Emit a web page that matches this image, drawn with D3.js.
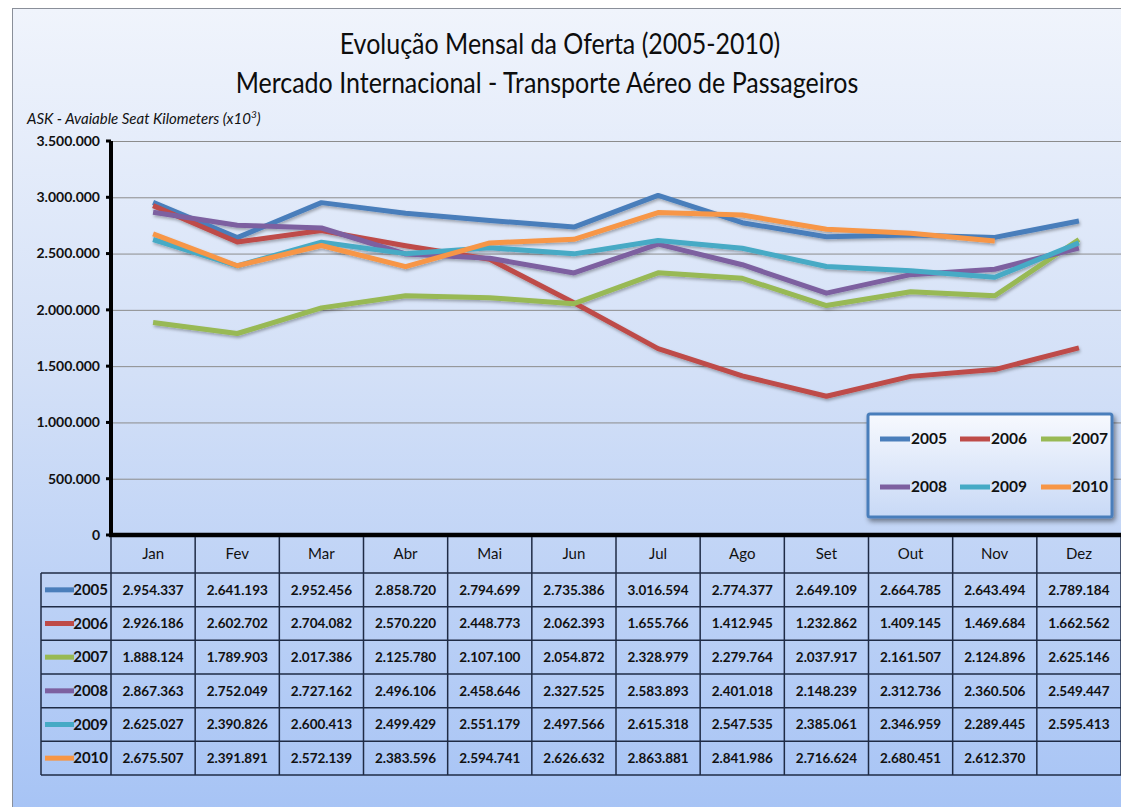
<!DOCTYPE html>
<html>
<head>
<meta charset="utf-8">
<script src="https://cdn.jsdelivr.net/npm/d3@7"></script>
<style>
  body { margin:0; background:#fff; }
  svg { display:block; font-family: Lato, "Open Sans", sans-serif; }
</style>
</head>
<body>
<svg id="chart" width="1121" height="807"></svg>
<script>
// months + series (ASK x10^3)
var months = ["Jan","Fev","Mar","Abr","Mai","Jun","Jul","Ago","Set","Out","Nov","Dez"];
var years = ["2005","2006","2007","2008","2009","2010"];
var colors = ["#4a7ebb","#be4b48","#98b954","#7d60a0","#46aac5","#f79646"];

var v2005 = [2954337,2641193,2952456,2858720,2794699,2735386,3016594,2774377,2649109,2664785,2643494,2789184];
var v2006 = [2926186,2602702,2704082,2570220,2448773,2062393,1655766,1412945,1232862,1409145,1469684,1662562];
var v2007 = [1888124,1789903,2017386,2125780,2107100,2054872,2328979,2279764,2037917,2161507,2124896,2625146];
var v2008 = [2867363,2752049,2727162,2496106,2458646,2327525,2583893,2401018,2148239,2312736,2360506,2549447];
var v2009 = [2625027,2390826,2600413,2499429,2551179,2497566,2615318,2547535,2385061,2346959,2289445,2595413];
var v2010 = [2675507,2391891,2572139,2383596,2594741,2626632,2863881,2841986,2716624,2680451,2612370,null];

var yTicks = [0,500000,1000000,1500000,2000000,2500000,3000000,3500000];
var yMax = 3500000;

var titleLine1 = "Evolução Mensal da Oferta (2005-2010)";
var titleLine2 = "Mercado Internacional - Transporte Aéreo de Passageiros";

var series = [v2005,v2006,v2007,v2008,v2009,v2010];

var svg = d3.select("#chart");
var width = 1121, height = 807;

// pt-BR style number format 2.954.337
var ptBR = d3.formatLocale({decimal:",", thousands:".", grouping:[3], currency:["",""]});
var fmt = ptBR.format(",d");

var defs = svg.append("defs");
var bg = defs.append("linearGradient").attr("id","bgGrad").attr("x1",0).attr("y1",0).attr("x2",0).attr("y2",1);
bg.append("stop").attr("offset","0%").attr("stop-color","#f0f4fc");
bg.append("stop").attr("offset","45%").attr("stop-color","#d3e0f7");
bg.append("stop").attr("offset","100%").attr("stop-color","#a6c3f5");

var lg = defs.append("linearGradient").attr("id","legGrad").attr("x1",0).attr("y1",0).attr("x2",0).attr("y2",1);
lg.append("stop").attr("offset","0%").attr("stop-color","#f7f9fe");
lg.append("stop").attr("offset","100%").attr("stop-color","#c8d9f6");

var shadow = defs.append("filter").attr("id","shadow").attr("x","-10%").attr("y","-10%").attr("width","130%").attr("height","140%");
shadow.append("feDropShadow").attr("dx",1).attr("dy",2).attr("stdDeviation",1.4).attr("flood-color","#000").attr("flood-opacity",0.3);
var shadow2 = defs.append("filter").attr("id","shadow2").attr("x","-10%").attr("y","-10%").attr("width","130%").attr("height","140%");
shadow2.append("feDropShadow").attr("dx",2).attr("dy",3).attr("stdDeviation",2.5).attr("flood-color","#000").attr("flood-opacity",0.45);

// chart area
svg.append("rect").attr("x",12.5).attr("y",8.5).attr("width",1120).attr("height",810)
  .attr("fill","url(#bgGrad)").attr("stroke","#8a8f99").attr("stroke-width",1);

// scales
var xScale = d3.scaleBand().domain(months).range([111, 1121]);
var yScale = d3.scaleLinear().domain([0, yMax]).range([535, 141]);
var rowScale = d3.scaleBand().domain(years).range([573, 775]);

// gridlines
var grid = svg.append("g").attr("transform","translate(111,0)")
  .call(d3.axisLeft(yScale).tickValues(yTicks.slice(1)).tickSize(-1010).tickFormat(""));
grid.select(".domain").remove();
grid.selectAll("line").attr("stroke","#8c8c8c").attr("stroke-width",1);

// y tick labels
svg.append("g").selectAll("text").data(yTicks).join("text")
  .attr("x",100).attr("y",function(d){ return yScale(d); })
  .attr("dy","0.35em").attr("text-anchor","end")
  .attr("font-size",14).attr("font-weight","bold").attr("fill","#111")
  .text(function(d){ return fmt(d); });

// tick stubs
svg.append("g").selectAll("rect").data(yTicks).join("rect")
  .attr("x",106).attr("y",function(d){ return yScale(d)-1.5; })
  .attr("width",5).attr("height",3).attr("fill","#000");

// axis title
var axT = svg.append("text").attr("x",27).attr("y",124)
  .attr("font-size",15).attr("font-style","italic").attr("fill","#111");
axT.append("tspan").text("ASK - Avaiable Seat Kilometers (x10");
axT.append("tspan").attr("font-size",10).attr("dy",-6).text("3");
axT.append("tspan").attr("dy",6).text(")");

// titles: bigger font squeezed horizontally (no Calibri here)
var t1 = svg.append("text").attr("text-anchor","middle")
  .attr("font-size",29).attr("fill","#0d0d0d").text(titleLine1);
var t2 = svg.append("text").attr("text-anchor","middle")
  .attr("font-size",29).attr("fill","#0d0d0d").text(titleLine2);
var sx = 623 / t2.node().getComputedTextLength();
t1.attr("transform","translate(560,54) scale("+sx+",1)");
t2.attr("transform","translate(547,93) scale("+sx+",1)");

// lines
var line = d3.line()
  .defined(function(d){ return d != null; })
  .x(function(d,i){ return xScale(months[i]) + xScale.bandwidth()/2; })
  .y(function(d){ return yScale(d); });

svg.append("g").attr("filter","url(#shadow)").selectAll("path").data(series).join("path")
  .attr("fill","none")
  .attr("stroke",function(d,i){ return colors[i]; })
  .attr("stroke-width",5)
  .attr("stroke-linejoin","round")
  .attr("stroke-linecap","butt")
  .attr("d", line);

// axis lines
svg.append("line").attr("x1",111).attr("x2",111).attr("y1",141).attr("y2",537)
  .attr("stroke","#000").attr("stroke-width",4);
svg.append("line").attr("x1",109).attr("x2",1121).attr("y1",535).attr("y2",535)
  .attr("stroke","#000").attr("stroke-width",4.5);

// data table
var tbl = svg.append("g");
var lineCol = "#1f2b45";
var rowEdges = years.map(function(y){ return rowScale(y); }).concat([775]);
tbl.selectAll("line.h").data(rowEdges).join("line")
  .attr("x1",41).attr("x2",1121)
  .attr("y1",function(d){ return d; }).attr("y2",function(d){ return d; })
  .attr("stroke",lineCol).attr("stroke-width",1.5);
var colEdges = months.map(function(m){ return xScale(m); }).concat([1121]);
tbl.selectAll("line.v").data(colEdges).join("line")
  .attr("x1",function(d){ return d; }).attr("x2",function(d){ return d; })
  .attr("y1",537).attr("y2",775)
  .attr("stroke",lineCol).attr("stroke-width",1.5);
tbl.append("line").attr("x1",41).attr("x2",41).attr("y1",573).attr("y2",775)
  .attr("stroke",lineCol).attr("stroke-width",1.5);

tbl.selectAll("text.m").data(months).join("text")
  .attr("x",function(d){ return xScale(d)+xScale.bandwidth()/2; }).attr("y",554)
  .attr("dy","0.35em").attr("text-anchor","middle").attr("font-size",15).attr("fill","#111")
  .text(function(d){ return d; });

years.forEach(function(yr, i){
  var cy = rowScale(yr) + rowScale.bandwidth()/2;
  tbl.append("line").attr("x1",45).attr("x2",74).attr("y1",cy).attr("y2",cy)
    .attr("stroke",colors[i]).attr("stroke-width",5);
  tbl.append("text").attr("x",108).attr("y",cy).attr("dy","0.35em").attr("text-anchor","end")
    .attr("font-size",15).attr("font-weight","bold").attr("fill","#111").text(yr);
  tbl.append("g").selectAll("text").data(series[i]).join("text")
    .attr("x",function(d,j){ return xScale(months[j])+xScale.bandwidth()/2; })
    .attr("y",cy).attr("dy","0.35em").attr("text-anchor","middle")
    .attr("font-size",13.5).attr("font-weight","bold").attr("fill","#111")
    .text(function(d){ return d == null ? "" : fmt(d); });
});

// legend box
var leg = svg.append("g");
leg.append("rect").attr("x",868).attr("y",414).attr("width",244).attr("height",103).attr("rx",2)
  .attr("fill","url(#legGrad)").attr("stroke","#4a7ebb").attr("stroke-width",3)
  .attr("filter","url(#shadow2)");
var legX = [880, 960, 1041], legY = [439, 487];
years.forEach(function(yr, i){
  var lx = legX[i%3], ly = legY[Math.floor(i/3)];
  leg.append("line").attr("x1",lx).attr("x2",lx+30).attr("y1",ly).attr("y2",ly)
    .attr("stroke",colors[i]).attr("stroke-width",5);
  leg.append("text").attr("x",lx+31).attr("y",ly).attr("dy","0.35em")
    .attr("font-size",15.5).attr("font-weight","bold").attr("fill","#111").text(yr);
});
</script>
</body>
</html>
